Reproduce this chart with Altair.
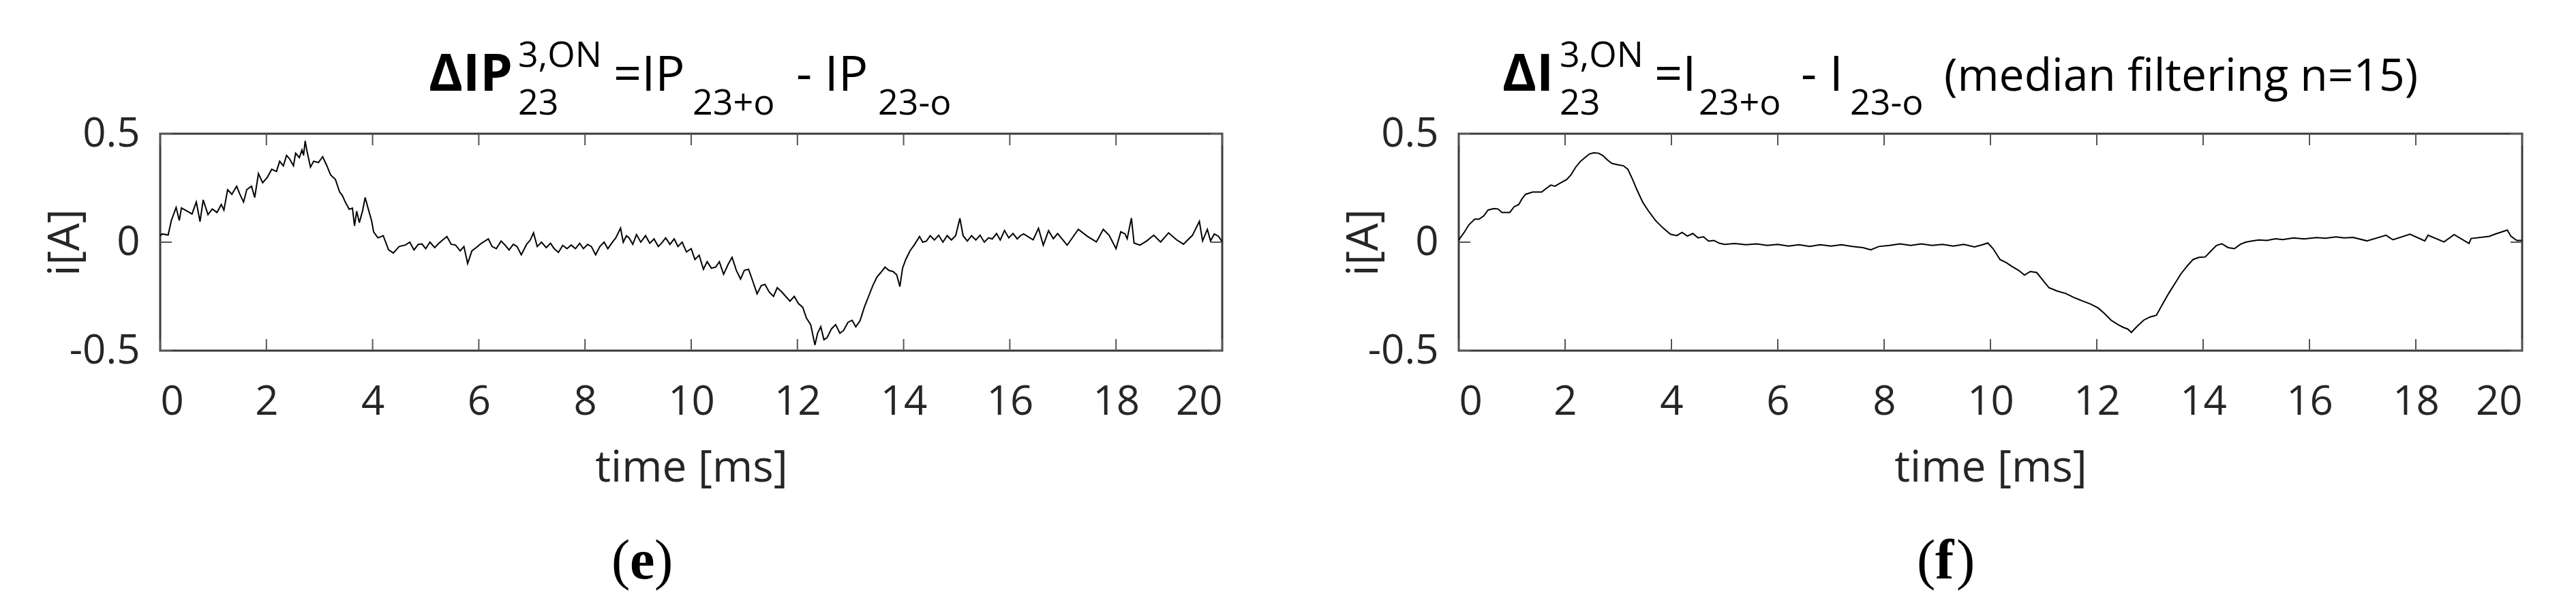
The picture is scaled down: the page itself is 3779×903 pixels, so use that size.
import altair as alt
import pandas as pd

# ---------------- data ----------------
X_TICKS = [0, 2, 4, 6, 8, 10, 12, 14, 16, 18, 20]
Y_TICKS = [-0.5, 0, 0.5]

# panel (e): raw difference  dIP
t_e = [0.00, 0.04, 0.15, 0.21, 0.30, 0.36, 0.40, 0.51, 0.60, 0.68, 0.75, 0.81, 0.90, 0.98,
       1.07, 1.15, 1.20, 1.27, 1.35, 1.44, 1.50, 1.57, 1.63, 1.72, 1.78, 1.85, 1.93, 2.02,
       2.10, 2.19, 2.25, 2.32, 2.38, 2.44, 2.51, 2.55, 2.62, 2.67, 2.70, 2.73, 2.76, 2.83,
       2.89, 2.98, 3.06, 3.13, 3.21, 3.30, 3.38, 3.43, 3.49, 3.56, 3.62, 3.66, 3.70, 3.75,
       3.81, 3.86, 3.92, 3.98, 4.02, 4.10, 4.20, 4.30, 4.39, 4.50, 4.62, 4.70, 4.78, 4.86,
       4.93, 5.00, 5.08, 5.17, 5.25, 5.32, 5.40, 5.48, 5.56, 5.65, 5.72, 5.79, 5.87, 5.95,
       6.05, 6.18, 6.25, 6.33, 6.42, 6.50, 6.57, 6.65, 6.72, 6.80, 6.90, 6.97, 7.03, 7.10,
       7.18, 7.27, 7.35, 7.42, 7.50, 7.58, 7.66, 7.74, 7.82, 7.90, 7.97, 8.05, 8.12, 8.20,
       8.28, 8.36, 8.43, 8.51, 8.58, 8.67, 8.72, 8.78, 8.83, 8.90, 8.97, 9.05, 9.14, 9.22,
       9.30, 9.38, 9.45, 9.52, 9.60, 9.68, 9.75, 9.83, 9.91, 10.00, 10.07, 10.15, 10.23,
       10.30, 10.38, 10.46, 10.53, 10.61, 10.70, 10.77, 10.85, 10.93, 11.00, 11.08, 11.16,
       11.24, 11.32, 11.39, 11.47, 11.55, 11.62, 11.70, 11.78, 11.86, 11.94, 12.02, 12.10,
       12.17, 12.25, 12.33, 12.38, 12.44, 12.50, 12.56, 12.64, 12.72, 12.80, 12.87, 12.95,
       13.03, 13.10, 13.18, 13.26, 13.34, 13.42, 13.50, 13.57, 13.65, 13.72, 13.80, 13.87,
       13.93, 13.98, 14.04, 14.12, 14.20, 14.30, 14.36, 14.43, 14.50, 14.58, 14.66, 14.74,
       14.82, 14.90, 14.98, 15.06, 15.12, 15.20, 15.28, 15.36, 15.44, 15.52, 15.60, 15.67,
       15.75, 15.82, 15.90, 15.98, 16.06, 16.14, 16.20, 16.26, 16.44, 16.54, 16.63, 16.73,
       16.82, 16.90, 17.08, 17.29, 17.46, 17.63, 17.76, 17.87, 18.00, 18.09, 18.17, 18.21,
       18.29, 18.34, 18.45, 18.58, 18.71, 18.84, 18.99, 19.14, 19.27, 19.44, 19.57, 19.63,
       19.72, 19.78, 19.85, 19.93, 20.00]
i_e = [0.030, 0.038, 0.033, 0.100, 0.160, 0.100, 0.158, 0.143, 0.130, 0.185, 0.095, 0.195, 0.127, 0.153,
       0.137, 0.174, 0.148, 0.242, 0.221, 0.258, 0.221, 0.185, 0.242, 0.258, 0.206, 0.316, 0.274, 0.300,
       0.336, 0.326, 0.373, 0.352, 0.400, 0.383, 0.352, 0.410, 0.390, 0.425, 0.400, 0.467, 0.425, 0.346,
       0.373, 0.367, 0.394, 0.357, 0.310, 0.289, 0.231, 0.215, 0.183, 0.152, 0.157, 0.075, 0.143, 0.090,
       0.143, 0.206, 0.152, 0.100, 0.047, 0.020, 0.030, -0.035, -0.050, -0.020, -0.013, 0.000, -0.036, -0.010,
       -0.008, -0.030, 0.000, -0.025, -0.005, 0.010, 0.026, -0.010, -0.013, -0.040, -0.020, -0.098, -0.040, -0.025,
       -0.005, 0.015, -0.020, -0.030, 0.005, -0.015, -0.036, -0.010, -0.020, -0.058, -0.010, 0.010, 0.043, -0.020,
       0.000, -0.025, -0.005, -0.030, -0.047, -0.015, -0.030, -0.013, -0.030, -0.005, -0.030, -0.010, -0.020, -0.058,
       -0.020, 0.000, -0.030, -0.002, 0.020, 0.065, 0.000, 0.030, 0.020, -0.010, 0.035, 0.000, 0.030, -0.005,
       0.015, -0.020, -0.002, 0.020, -0.010, 0.015, -0.020, 0.000, -0.045, -0.030, -0.080, -0.060, -0.125,
       -0.090, -0.120, -0.115, -0.090, -0.148, -0.100, -0.070, -0.130, -0.170, -0.130, -0.125, -0.180,
       -0.238, -0.200, -0.195, -0.230, -0.250, -0.210, -0.228, -0.250, -0.272, -0.250, -0.283, -0.300,
       -0.350, -0.380, -0.474, -0.420, -0.390, -0.450, -0.440, -0.400, -0.380, -0.420, -0.407, -0.370,
       -0.360, -0.390, -0.362, -0.300, -0.250, -0.200, -0.160, -0.140, -0.115, -0.130, -0.135, -0.150,
       -0.205, -0.120, -0.080, -0.040, -0.013, 0.026, 0.000, 0.005, 0.030, 0.010, 0.032, 0.000,
       0.030, 0.010, 0.030, 0.110, 0.030, 0.005, 0.030, 0.010, 0.032, 0.000, 0.020, 0.015,
       0.040, 0.010, 0.054, 0.020, 0.040, 0.015, 0.030, 0.038, 0.011, 0.064, -0.014, 0.053,
       0.016, 0.040, -0.014, 0.059, 0.027, 0.001, 0.059, 0.032, -0.030, 0.048, 0.038, 0.016,
       0.111, -0.004, -0.014, 0.006, 0.032, 0.001, 0.043, 0.011, -0.009, 0.032, 0.096, 0.006,
       0.059, 0.006, 0.038, 0.027, 0.001]

# panel (f): median filtered (n=15)
t_f = [0.00, 0.02, 0.11, 0.19, 0.30, 0.38, 0.47, 0.55, 0.66, 0.74, 0.81, 0.96, 1.04, 1.13,
       1.19, 1.26, 1.39, 1.47, 1.56, 1.64, 1.73, 1.81, 1.92, 2.03, 2.11, 2.20, 2.29, 2.37,
       2.46, 2.54, 2.63, 2.71, 2.80, 2.88, 2.99, 3.10, 3.18, 3.27, 3.35, 3.46, 3.57, 3.70,
       3.83, 3.98, 4.10, 4.20, 4.30, 4.40, 4.50, 4.60, 4.70, 4.80, 4.90, 5.00, 5.20, 5.40,
       5.60, 5.80, 6.00, 6.20, 6.40, 6.60, 6.80, 7.00, 7.20, 7.40, 7.60, 7.75, 7.90, 8.10,
       8.30, 8.50, 8.70, 8.90, 9.10, 9.30, 9.50, 9.70, 9.85, 9.95, 10.05, 10.18, 10.30,
       10.41, 10.53, 10.64, 10.75, 10.87, 11.00, 11.10, 11.25, 11.42, 11.57, 11.72, 11.88,
       12.03, 12.15, 12.27, 12.40, 12.50, 12.58, 12.65, 12.75, 12.88, 13.00, 13.12, 13.25,
       13.35, 13.47, 13.58, 13.70, 13.81, 13.92, 14.04, 14.15, 14.25, 14.35, 14.47, 14.59,
       14.70, 14.80, 14.90, 15.05, 15.20, 15.36, 15.50, 15.70, 15.90, 16.13, 16.30, 16.50,
       16.65, 16.82, 17.08, 17.44, 17.57, 17.89, 18.17, 18.23, 18.53, 18.72, 19.00, 19.04,
       19.38, 19.49, 19.72, 19.79, 19.90, 20.00]
i_f = [0.010, 0.017, 0.048, 0.080, 0.106, 0.106, 0.121, 0.148, 0.155, 0.153, 0.137, 0.137, 0.163, 0.174,
       0.200, 0.221, 0.231, 0.231, 0.231, 0.247, 0.263, 0.258, 0.274, 0.289, 0.310, 0.346, 0.373, 0.389,
       0.407, 0.412, 0.410, 0.399, 0.378, 0.363, 0.357, 0.352, 0.336, 0.289, 0.242, 0.184, 0.143, 0.100,
       0.068, 0.037, 0.030, 0.045, 0.028, 0.040, 0.020, 0.025, 0.005, 0.008, -0.005, -0.010, -0.006, -0.012,
       -0.008, -0.015, -0.010, -0.018, -0.012, -0.020, -0.012, -0.018, -0.012, -0.020, -0.025, -0.035, -0.020, -0.015,
       -0.008, -0.015, -0.008, -0.015, -0.010, -0.018, -0.010, -0.022, -0.012, -0.004, -0.030, -0.080, -0.095,
       -0.113, -0.130, -0.152, -0.135, -0.140, -0.180, -0.210, -0.225, -0.237, -0.255, -0.270, -0.285,
       -0.304, -0.330, -0.360, -0.380, -0.393, -0.400, -0.416, -0.390, -0.360, -0.345, -0.337, -0.280,
       -0.237, -0.190, -0.147, -0.110, -0.080, -0.070, -0.068, -0.040, -0.015, -0.007, -0.025, -0.030,
       -0.010, 0.000, 0.005, 0.010, 0.008, 0.016, 0.012, 0.020, 0.015, 0.021, 0.018, 0.024,
       0.020, 0.022, 0.006, 0.032, 0.011, 0.037, 0.006, 0.032, 0.001, 0.035, -0.006, 0.017,
       0.027, 0.037, 0.056, 0.027, 0.008, 0.008]

# ---------------- style ----------------
FONT = "Open Sans"
AXC = "#262626"
TICKC = "#555555"
H = 318
W_L = 1558
W_R = 1560
ONE = pd.DataFrame({"k": [0]})


def txt(s, x, y, size, bold=False, font=FONT, color="black"):
    return alt.Chart(ONE).mark_text(
        text=s, align="left", baseline="alphabetic", font=font, fontSize=size,
        fontWeight="bold" if bold else "normal", color=color
    ).encode(x=alt.value(x), y=alt.value(y))


def panel(t, v, width, title_layers, letter, lx):
    df = pd.DataFrame({"t": t, "i": v})
    xenc = alt.X("t:Q", scale=alt.Scale(domain=[0, 20], nice=False, zero=False),
                 axis=alt.Axis(values=X_TICKS, format="d", labelOverlap=False,
                               title="time [ms]", titleX=width / 2, titleY=191,
                               titleBaseline="alphabetic", titleAlign="center",
                               labelPadding=46))
    yenc = alt.Y("i:Q", scale=alt.Scale(domain=[-0.5, 0.5], nice=False, zero=False),
                 axis=alt.Axis(values=Y_TICKS, labelOverlap=False,
                               title="i[A]", titleX=-139, titleY=H / 2,
                               titleAngle=270, titleAlign="center", titleBaseline="middle",
                               labelPadding=30,
                               labelExpr="datum.value < 0 ? '-' + format(-datum.value, '~g') : format(datum.value, '~g')"))
    line = alt.Chart(df).mark_line(color="black", strokeWidth=2).encode(x=xenc, y=yenc)
    xt = pd.DataFrame({"t": X_TICKS})
    yt = pd.DataFrame({"i": Y_TICKS})
    tick_top = alt.Chart(xt).mark_rule(color=TICKC, strokeWidth=2).encode(
        x="t:Q", y=alt.value(0), y2=alt.value(17))
    tick_bot = alt.Chart(xt).mark_rule(color=TICKC, strokeWidth=2).encode(
        x="t:Q", y=alt.value(H - 17), y2=alt.value(H))
    tick_l = alt.Chart(yt).mark_rule(color=TICKC, strokeWidth=2).encode(
        y="i:Q", x=alt.value(0), x2=alt.value(17))
    tick_r = alt.Chart(yt).mark_rule(color=TICKC, strokeWidth=2).encode(
        y="i:Q", x=alt.value(width - 17), x2=alt.value(width))
    lab = [
        txt("(", lx, 652, 82, font="Liberation Serif"),
        txt(letter, lx + 27, 652, 82, bold=True, font="Liberation Serif"),
        txt(")", lx + 27 + (36 if letter == "e" else 31), 652, 82, font="Liberation Serif"),
    ]
    return alt.layer(line, tick_top, tick_bot, tick_l, tick_r, *title_layers, *lab).properties(
        width=width, height=H)


MAIN = 72
BOLD = 76
SUB = 52
title_e = [
    txt("ΔIP", 394, -63, BOLD, bold=True),
    txt("3,ON", 525, -98, SUB),
    txt("23", 525, -28, SUB),
    txt("=IP", 665, -63, MAIN),
    txt("23+o", 781, -28, SUB),
    txt("- IP", 933, -63, MAIN),
    txt("23-o", 1053, -28, SUB),
]
title_f = [
    txt("ΔI", 64, -63, BOLD, bold=True),
    txt("3,ON", 148, -98, SUB),
    txt("23", 148, -28, SUB),
    txt("=I", 287, -63, MAIN),
    txt("23+o", 352, -28, SUB),
    txt("- I", 502, -63, MAIN),
    txt("23-o", 574, -28, SUB),
    txt("(median filtering n=15)", 712, -63, 66),
]

left = panel(t_e, i_e, W_L, title_e, "e", 662)
right = panel(t_f, i_f, W_R, title_f, "f", 672)

chart = alt.hconcat(left, right, spacing=347, bounds="flush").properties(
    padding={"left": 54, "top": 46, "right": 10, "bottom": 10},
    background="white",
).configure_view(
    stroke="#3a3a3a", strokeWidth=3
).configure_axis(
    domain=False, ticks=False, grid=False,
    labelFont=FONT, labelFontSize=60, labelColor=AXC,
    titleFont=FONT, titleFontSize=64, titleFontWeight="normal", titleColor=AXC,
)

chart.save("out.html", embed_options={"renderer": "svg", "actions": False})
